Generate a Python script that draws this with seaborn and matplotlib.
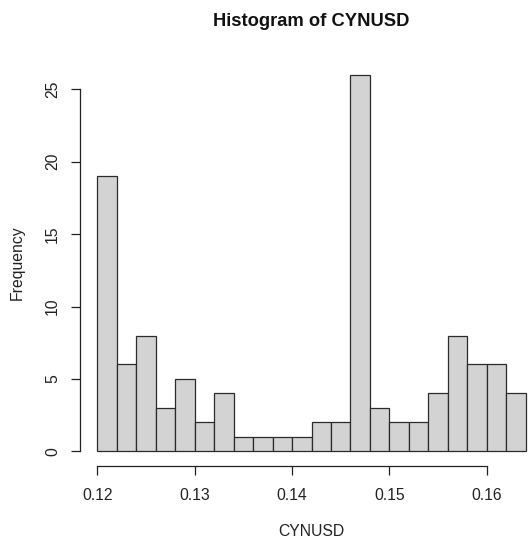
import numpy as np
import pandas as pd
import matplotlib
matplotlib.use("Agg")
import matplotlib.pyplot as plt
import seaborn as sns

# data: histogram of CYNUSD, bin width 0.002
bin_edges = [0.120, 0.122, 0.124, 0.126, 0.128, 0.130, 0.132, 0.134, 0.136, 0.138,
             0.140, 0.142, 0.144, 0.146, 0.148, 0.150, 0.152, 0.154, 0.156, 0.158,
             0.160, 0.162, 0.164]
counts = [19, 6, 8, 3, 5, 2, 4, 1, 1, 1, 1, 2, 2, 26, 3, 2, 2, 4, 8, 6, 6, 4]
x_ticks = [0.12, 0.13, 0.14, 0.15, 0.16]
x_tick_labels = ["0.12", "0.13", "0.14", "0.15", "0.16"]
y_ticks = [0, 5, 10, 15, 20, 25]

centers = [(a + b) / 2 for a, b in zip(bin_edges[:-1], bin_edges[1:])]
df = pd.DataFrame({"CYNUSD": centers, "count": counts})

sns.set_style("white")
plt.rcParams["font.family"] = ["Liberation Sans", "DejaVu Sans"]

W, H = 528, 543
fig = plt.figure(figsize=(W / 100, H / 100), dpi=100)
left_px, right_px, top_px, bot_px = 80, 543, 59.8, 466.4
ax = fig.add_axes([left_px / W, 1 - bot_px / H, (right_px - left_px) / W, (bot_px - top_px) / H])

sns.histplot(data=df, x="CYNUSD", weights="count", bins=bin_edges, ax=ax,
             color="#D3D3D3", edgecolor="#2b2b2b", linewidth=0.9, alpha=1)

xr = bin_edges[-1] - bin_edges[0]
ax.set_xlim(bin_edges[0] - 0.04 * xr, bin_edges[-1] + 0.04 * xr)
ymax = max(counts)
ax.set_ylim(-0.04 * ymax, ymax * 1.04)

ax.set_xticks(x_ticks)
ax.set_xticklabels(x_tick_labels)
ax.set_yticks(y_ticks)
ax.set_yticklabels([str(v) for v in y_ticks], rotation=90, va="center")

for s in ["top", "right"]:
    ax.spines[s].set_visible(False)
ax.spines["left"].set_bounds(y_ticks[0], y_ticks[-1])
ax.spines["bottom"].set_bounds(x_ticks[0], x_ticks[-1])
for s in ["left", "bottom"]:
    ax.spines[s].set_color("#222222")
    ax.spines[s].set_linewidth(0.9)

ax.tick_params(axis="both", which="major", length=6.3, width=0.9, color="#222222",
               labelsize=11.3, labelcolor="#222222", bottom=True, left=True)
ax.tick_params(axis="x", pad=9)
ax.tick_params(axis="y", pad=8)
ax.set_xlabel("")
ax.set_ylabel("")
ax.grid(False)

fig.text(311.5 / W, 1 - 22 / H, "Histogram of CYNUSD", ha="center", va="center",
         fontsize=13.2, fontweight="bold", color="#111111")
fig.text(311.7 / W, 1 - 531.7 / H, "CYNUSD", ha="center", va="center",
         fontsize=11.3, color="#222222")
fig.text(17 / W, 1 - 263 / H, "Frequency", ha="center", va="center",
         rotation=90, fontsize=11.3, color="#222222")

fig.savefig("out.png", dpi=100)
